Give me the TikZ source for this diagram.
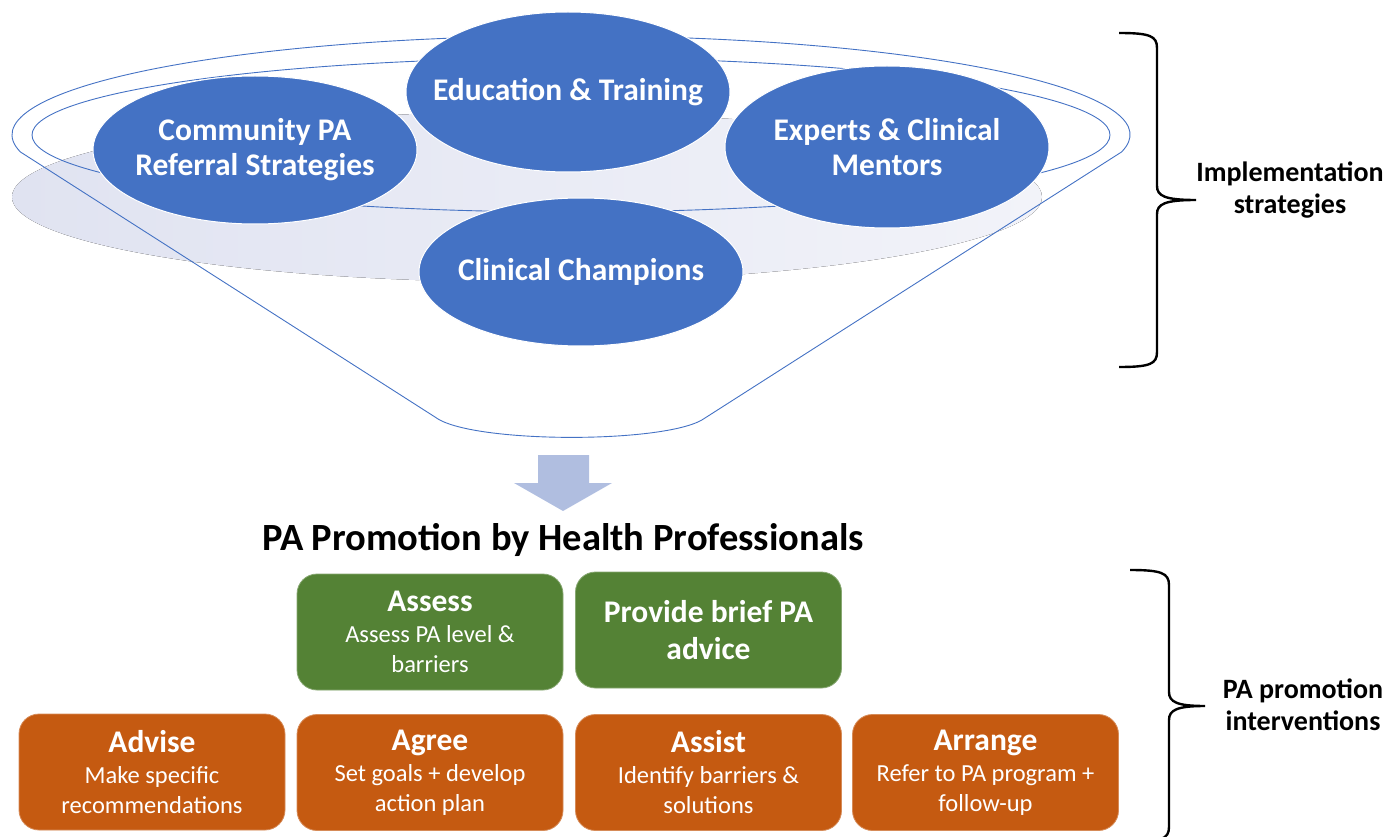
\documentclass[tikz,border=0pt]{standalone}
\usepackage{fontspec}
\setmainfont{Carlito}
\usepackage{tikz}
\usetikzlibrary{shapes.geometric}

\definecolor{stratblue}{HTML}{4472C4}
\definecolor{shadeL}{HTML}{E0E3F1}
\definecolor{shadeR}{HTML}{F2F3F9}
\definecolor{arrowblue}{HTML}{B0BEE0}
\definecolor{pagreen}{HTML}{548235}
\definecolor{paorange}{HTML}{C55A11}

\begin{document}
\begin{tikzpicture}[x=1pt, y=-1pt,
  strat/.style={ellipse, fill=stratblue, draw=white, line width=1pt, text=white, align=center, inner xsep=-30pt, inner ysep=0pt, minimum width=324pt, font=\fontsize{31.5}{35}\selectfont\bfseries},
  greenbox/.style={rectangle, rounded corners=20pt, fill=pagreen, draw=pagreen!70!white, line width=0.8pt, text=white, align=center, minimum width=266pt, minimum height=116pt, inner sep=0pt, font=\fontsize{24.5}{30}\selectfont},
  orangebox/.style={greenbox, fill=paorange, draw=paorange!70!white},
  sidelabel/.style={align=center, font=\fontsize{28}{32}\selectfont\bfseries},
  funnelline/.style={draw=stratblue, line width=0.9pt},
  bracket/.style={draw=black, line width=2.4pt}]
\useasboundingbox (0,0) rectangle (1387,837);

% Funnel (top)
\fill[left color=shadeL, right color=shadeR] (527,197) ellipse [x radius=515, y radius=85];
\draw[funnelline] (1121.5,152) arc[start angle=10, end angle=-190, x radius=559, y radius=99]
  -- (435,417) .. controls (470,444) and (670,444) .. (705,418) -- cycle;
\draw[funnelline] (571,135) ellipse [x radius=539, y radius=77];

% Implementation strategies
\node[strat, minimum height=160pt] (edu) at (568,92) {Education \& Training};
\node[strat, minimum height=148pt] (comm) at (255,150) {Community PA\\Referral Strategies};
\node[strat, minimum height=162pt] (expert) at (887,147) {Experts \& Clinical\\Mentors};
\node[strat, minimum height=148pt] (champ) at (581,272) {Clinical Champions};

% Down arrow
\fill[arrowblue] (538,455) -- (589,455) -- (589,483) -- (612,483) -- (563,511) -- (514,483) -- (538,483) -- cycle;

\node (title) at (563,540) {\fontsize{38.5}{42}\selectfont\bfseries PA Promotion by Health Professionals};

% PA promotion interventions (bottom)
\node[greenbox] (assess) at (430,632) {{\fontsize{31.5}{34}\selectfont\bfseries Assess}\\[1pt]Assess PA level \&\\barriers};
\node[greenbox, font=\fontsize{31.5}{37}\selectfont\bfseries] (brief) at (708.5,630) {Provide brief PA\\advice};
\node[orangebox] (advise) at (152,772) {{\fontsize{31.5}{34}\selectfont\bfseries Advise}\\[1pt]Make specific\\recommendations};
\node[orangebox] (agree) at (430,772.5) {{\fontsize{31.5}{34}\selectfont\bfseries Agree}\\[1pt]Set goals + develop\\action plan};
\node[orangebox] (assist) at (708.5,772.5) {{\fontsize{31.5}{34}\selectfont\bfseries Assist}\\[1pt]Identify barriers \&\\solutions};
\node[orangebox] (arrange) at (985.5,772.5) {{\fontsize{31.5}{34}\selectfont\bfseries Arrange}\\[1pt]Refer to PA program +\\follow-up};

% Brackets and side labels
\draw[bracket] (1119,33) .. controls (1150,33) and (1157,36) .. (1157,48) -- (1157,186)
  .. controls (1157,196) and (1165,200) .. (1196,200)
  .. controls (1165,200) and (1157,204) .. (1157,214) -- (1157,352)
  .. controls (1157,364) and (1150,367) .. (1119,367);
\draw[bracket] (1130,570) .. controls (1161,570) and (1169,573) .. (1169,585) -- (1169,692)
  .. controls (1169,702) and (1177,706) .. (1205,706)
  .. controls (1177,706) and (1169,710) .. (1169,720) -- (1169,827)
  .. controls (1169,839) and (1161,842) .. (1130,842);
\node[sidelabel] (implab) at (1290,190) {Implementation\\strategies};
\node[sidelabel] (promlab) at (1303,705) {PA promotion\\interventions};
\end{tikzpicture}
\end{document}
